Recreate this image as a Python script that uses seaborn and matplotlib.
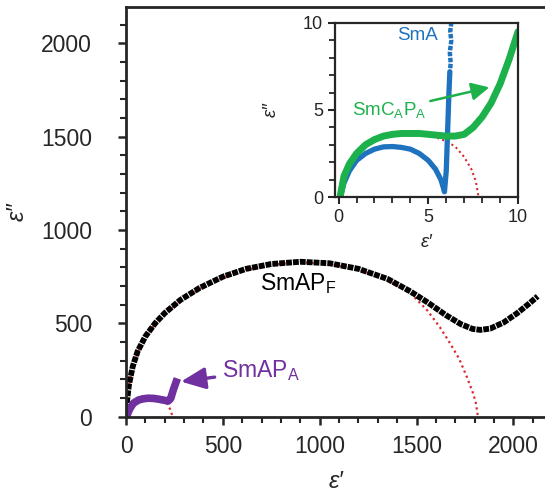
import numpy as np
import pandas as pd
import matplotlib
matplotlib.use("Agg")
import matplotlib.pyplot as plt
import seaborn as sns

# ---------------- data ----------------
# main panel: SmAP_F (black)
apf_x = [0, 5, 15, 35, 60, 100, 150, 200, 280, 380, 500, 620, 750, 900, 1050,
         1200, 1350, 1470, 1560, 1650, 1730, 1790, 1830, 1880, 1950, 2020, 2080, 2125]
apf_y = [0, 80, 170, 270, 350, 430, 500, 555, 625, 690, 750, 792, 818, 830, 822,
         792, 738, 670, 610, 545, 495, 470, 465, 472, 505, 555, 605, 645]
# fit arc for SmAP_F (red dotted)
fitf_x = [0, 5, 15, 35, 60, 100, 150, 200, 280, 380, 500, 620, 750, 900, 1050,
          1200, 1350, 1470, 1554, 1620, 1673, 1720, 1760, 1790, 1805, 1817]
fitf_y = [0, 78, 166, 265, 345, 425, 495, 550, 620, 685, 745, 788, 815, 827, 819,
          789, 733, 660, 571, 480, 393, 310, 212, 130, 80, 0]
# main panel: SmAP_A (purple)
apa_x = [3, 12, 21, 38, 64, 89, 115, 141, 168, 193, 218, 231, 244, 255, 265]
apa_y = [0, 25, 45, 72, 89, 96, 99, 98, 94, 89, 84, 98, 143, 175, 205]
# fit arc for SmAP_A (red dotted)
fita_x = [0, 20, 50, 90, 130, 170, 200, 215, 228, 236, 240]
fita_y = [0, 45, 75, 92, 97, 93, 85, 65, 40, 15, 0]

# inset: SmA (blue) - continuous part and the sparse points on top
sma_x = [0.1, 0.3, 0.6, 1.0, 1.5, 2.0, 2.5, 3.0, 3.5, 4.0, 4.5, 5.0, 5.4, 5.7,
         5.85, 5.9, 6.0, 6.05, 6.1, 6.15, 6.2]
sma_y = [0.0, 0.8, 1.5, 2.1, 2.5, 2.75, 2.88, 2.9, 2.85, 2.75, 2.5, 2.1, 1.6,
         1.0, 0.5, 0.3, 1.5, 3.0, 4.5, 6.0, 7.2]
smatop_x = [6.22, 6.25, 6.22, 6.2, 6.22, 6.25, 6.28, 6.25, 6.22, 6.25, 6.28]
smatop_y = [7.4, 7.7, 8.0, 8.3, 8.5, 8.7, 9.0, 9.25, 9.5, 9.75, 10.0]
# inset: SmC_AP_A (green)
smc_x = [0.1, 0.3, 0.6, 1.0, 1.5, 2.0, 2.5, 3.0, 3.5, 4.0, 4.5, 5.0, 5.5, 6.0,
         6.5, 7.0, 7.5, 8.0, 8.5, 9.0, 9.5, 10.0]
smc_y = [0.1, 1.2, 1.9, 2.5, 3.0, 3.3, 3.5, 3.6, 3.65, 3.65, 3.65, 3.6, 3.55,
         3.5, 3.5, 3.6, 4.0, 4.6, 5.4, 6.5, 7.9, 9.5]
# inset fit arcs (red dotted)
fitc_x = [5.5, 6.0, 6.5, 7.0, 7.4, 7.65, 7.8]
fitc_y = [3.4, 3.2, 2.9, 2.3, 1.6, 0.9, 0.0]
fits_x = [5.75, 5.85, 5.9]
fits_y = [0.6, 0.3, 0.0]

main_xticks = [0, 500, 1000, 1500, 2000]
main_yticks = [0, 500, 1000, 1500, 2000]
inset_ticks = [0, 5, 10]

BLACK = "#000000"
PURPLE = "#7030A0"
GREEN = "#1DB14B"
BLUE = "#1F73BE"
RED = "#D82A30"

# ---------------- style ----------------
sns.set_style("ticks")
plt.rcParams["font.family"] = ["Liberation Sans", "DejaVu Sans"]
plt.rcParams["mathtext.fontset"] = "custom"
plt.rcParams["mathtext.rm"] = "Liberation Sans"
plt.rcParams["mathtext.it"] = "Liberation Sans:italic"

fig = plt.figure(figsize=(5.45, 4.93), dpi=100)
ax = fig.add_axes([0.2312, 0.1548, 0.7688, 0.8310])

def line(axis, xs, ys, **kw):
    df = pd.DataFrame({"x": xs, "y": ys})
    sns.lineplot(data=df, x="x", y="y", sort=False, estimator=None, ax=axis, **kw)

line(ax, fitf_x, fitf_y, color=RED, lw=1.6, linestyle=(0, (1, 1.5)))
line(ax, fita_x, fita_y, color=RED, lw=1.6, linestyle=(0, (1, 1.5)))
line(ax, apf_x, apf_y, color=BLACK, lw=4.2, linestyle=(0, (1, 0.18)))
line(ax, apa_x, apa_y, color=PURPLE, lw=5.5, solid_capstyle="butt")

ax.set_xlim(0, 2163)
ax.set_ylim(0, 2195)
ax.set_xticks(main_xticks)
ax.set_yticks(main_yticks)
ax.set_xticks(np.arange(0, 2163, 100), minor=True)
ax.set_yticks(np.arange(0, 2195, 100), minor=True)
ax.tick_params(axis="both", which="major", direction="out", length=5.5, width=1.8,
               labelsize=16.5)
ax.tick_params(axis="both", which="minor", direction="out", length=4, width=1.5)
ax.tick_params(axis="y", which="major", pad=19)
ax.tick_params(axis="x", which="major", pad=8)
for s in ["left", "bottom", "top"]:
    ax.spines[s].set_linewidth(2)
ax.spines["right"].set_visible(False)
ax.set_xlabel("ε′", fontsize=17, fontstyle="italic")
ax.set_ylabel("ε″", fontsize=17, fontstyle="italic")
ax.xaxis.set_label_coords(0.5, -0.13)
ax.yaxis.set_label_coords(-0.232, 0.5)

ax.text(690, 715, r"SmAP$_\mathregular{F}$", fontsize=16.5, color=BLACK,
        ha="left", va="center")
ax.annotate(r"SmAP$_\mathregular{A}$", xy=(284, 188), xytext=(496, 245),
            fontsize=16.5, color=PURPLE, ha="left", va="center",
            arrowprops=dict(arrowstyle="-|>,head_length=0.9,head_width=0.4",
                            color=PURPLE, lw=2.4, shrinkA=3, shrinkB=0))

# ---------------- inset ----------------
ins = fig.add_axes([0.6147, 0.6004, 0.3358, 0.353])
line(ins, fitc_x, fitc_y, color=RED, lw=1.5, linestyle=(0, (1, 1.5)))
line(ins, fits_x, fits_y, color=RED, lw=1.5, linestyle=(0, (1, 1.5)))
line(ins, sma_x, sma_y, color=BLUE, lw=3.8)
line(ins, smatop_x, smatop_y, color=BLUE, lw=3.2, linestyle=(0, (1, 0.35)))
line(ins, smc_x, smc_y, color=GREEN, lw=5)
ins.set_xlim(-0.2, 10)
ins.set_ylim(0, 10)
ins.set_xticks(inset_ticks)
ins.set_yticks(inset_ticks)
ins.set_xticks(np.arange(0, 11, 1), minor=True)
ins.set_yticks(np.arange(0, 11, 1), minor=True)
ins.tick_params(axis="both", which="major", direction="out", length=5, width=1.5,
                labelsize=13)
ins.tick_params(axis="both", which="minor", direction="out", length=4, width=1.3)
for s in ins.spines.values():
    s.set_linewidth(1.6)
ins.set_xlabel("ε′", fontsize=13.5, fontstyle="italic")
ins.set_ylabel("ε″", fontsize=13.5, fontstyle="italic")
ins.xaxis.set_label_coords(0.5, -0.215)
ins.yaxis.set_label_coords(-0.3, 0.5)
ins.text(4.4, 9.3, "SmA", fontsize=13.5, color=BLUE, ha="center", va="center")
ins.annotate(r"SmC$_\mathregular{A}$P$_\mathregular{A}$", xy=(8.4, 6.3),
             xytext=(2.85, 5.0), fontsize=13.5, color=GREEN, ha="center", va="center",
             arrowprops=dict(arrowstyle="-|>,head_length=0.8,head_width=0.4",
                             color=GREEN, lw=1.8, shrinkA=0, shrinkB=0,
                             relpos=(0.85, 0.78)))

fig.savefig("out.png", dpi=100)
